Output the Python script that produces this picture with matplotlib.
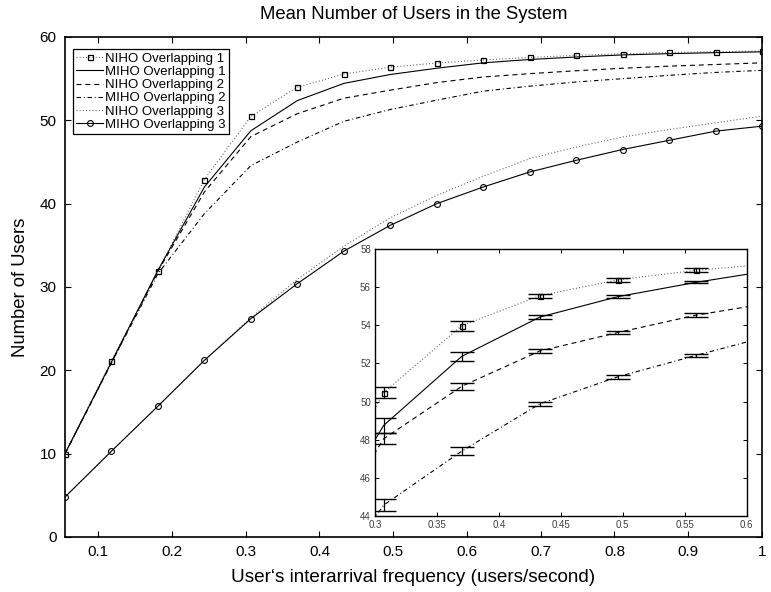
import matplotlib
matplotlib.use('Agg')
import matplotlib.pyplot as plt

plt.rcParams['font.family'] = ['Liberation Sans', 'DejaVu Sans']
plt.rcParams['lines.scale_dashes'] = False

# ---------------- data ----------------
freq = [0.055, 0.118, 0.181, 0.244, 0.307, 0.370, 0.433, 0.496,
        0.559, 0.622, 0.685, 0.748, 0.811, 0.874, 0.937, 1.000]

niho1 = [10.0, 21.1, 31.9, 42.9, 50.47, 53.98, 55.55, 56.38,
         56.88, 57.24, 57.55, 57.80, 58.00, 58.14, 58.24, 58.32]
miho1 = [10.0, 21.0, 32.0, 42.0, 48.75, 52.37, 54.43, 55.50,
         56.25, 56.90, 57.30, 57.60, 57.85, 58.00, 58.12, 58.22]
niho2 = [10.0, 20.9, 31.9, 41.4, 48.05, 50.80, 52.65, 53.62,
         54.53, 55.20, 55.60, 55.95, 56.25, 56.50, 56.70, 56.90]
miho2 = [10.0, 20.9, 31.6, 38.8, 44.57, 47.40, 49.88, 51.30,
         52.42, 53.50, 54.10, 54.60, 55.00, 55.40, 55.75, 56.00]
niho3 = [4.8, 10.3, 15.7, 21.2, 26.3, 30.9, 34.9, 38.3,
         41.0, 43.3, 45.4, 46.8, 48.0, 48.9, 49.7, 50.5]
miho3 = [4.8, 10.3, 15.7, 21.2, 26.2, 30.4, 34.3, 37.4,
         40.0, 42.0, 43.8, 45.2, 46.5, 47.6, 48.7, 49.3]

# confidence half-widths for points 5..9 (shown in the zoomed inset)
err_idx = [4, 5, 6, 7, 8]
niho1_err = [0.27, 0.26, 0.11, 0.09, 0.11]
miho1_err = [0.41, 0.25, 0.12, 0.08, 0.05]
niho2_err = [0.29, 0.20, 0.10, 0.10, 0.10]
miho2_err = [0.33, 0.20, 0.09, 0.11, 0.10]

labels = ['NIHO Overlapping 1', 'MIHO Overlapping 1', 'NIHO Overlapping 2',
          'MIHO Overlapping 2', 'NIHO Overlapping 3', 'MIHO Overlapping 3']

main_xticks = [0.1, 0.2, 0.3, 0.4, 0.5, 0.6, 0.7, 0.8, 0.9, 1.0]
main_xticklabels = ['0.1', '0.2', '0.3', '0.4', '0.5', '0.6', '0.7', '0.8', '0.9', '1']
main_yticks = [0, 10, 20, 30, 40, 50, 60]
ins_xticks = [0.3, 0.35, 0.4, 0.45, 0.5, 0.55, 0.6]
ins_xticklabels = ['0.3', '0.35', '0.4', '0.45', '0.5', '0.55', '0.6']
ins_yticks = [44, 46, 48, 50, 52, 54, 56, 58]

# ---------------- styles ----------------
dotted = (0, (0.7, 1.6))
dashed = (0, (3.6, 2.8))
dashdot = (0, (3.2, 2.0, 0.7, 2.0))
lw = 0.8
series = [
    (niho1, dict(color='0.35', ls=dotted, marker='s', ms=3.6, mfc='none', mec='black', mew=0.9)),
    (miho1, dict(color='black', ls='-')),
    (niho2, dict(color='black', ls=dashed)),
    (miho2, dict(color='black', ls=dashdot)),
    (niho3, dict(color='0.35', ls=dotted)),
    (miho3, dict(color='black', ls='-', marker='o', ms=4.2, mfc='none', mec='black', mew=0.8)),
]

W, H = 771, 592
fig = plt.figure(figsize=(W / 100, H / 100), dpi=100)
ax = fig.add_axes([65 / W, (H - 537) / H, 697 / W, 500 / H])

handles = []
for (vals, st), lab in zip(series, labels):
    h, = ax.plot(freq, vals, lw=lw, label=lab, **st)
    handles.append(h)

ax.set_xlim(0.055, 1.0)
ax.set_ylim(0, 60)
ax.set_xticks(main_xticks)
ax.set_xticklabels(main_xticklabels)
ax.set_yticks(main_yticks)
ax.tick_params(direction='in', length=4, width=0.8, labelsize=11, pad=6,
               top=True, right=True)
for sp in ax.spines.values():
    sp.set_linewidth(1.2)

ax.set_title('Mean Number of Users in the System', fontsize=13.3, pad=13)
ax.set_xlabel('User‘s interarrival frequency (users/second)', fontsize=13.6, labelpad=7)
ax.set_ylabel('Number of Users', fontsize=13.3, labelpad=8)

leg = ax.legend(handles=handles, loc='upper left', bbox_to_anchor=(0.0115, 0.976),
                borderaxespad=0, fontsize=9.5, frameon=True, fancybox=False,
                edgecolor='black', framealpha=1, handlelength=2.0,
                handletextpad=0.2, borderpad=0.25, labelspacing=0.08)
leg.get_frame().set_linewidth(0.9)

# ---------------- inset ----------------
ins = fig.add_axes([375 / W, (H - 516) / H, 371.7 / W, 267 / H])
for vals, st in series:
    ins.plot(freq, vals, lw=lw, **st)

ex = [freq[i] for i in err_idx]
for vals, errs in [(niho1, niho1_err), (miho1, miho1_err),
                   (niho2, niho2_err), (miho2, miho2_err)]:
    ey = [vals[i] for i in err_idx]
    ins.errorbar(ex, ey, yerr=errs, fmt='none', ecolor='black',
                 elinewidth=0.9, capsize=8.4, capthick=1.0)

ins.set_xlim(0.3, 0.6)
ins.set_ylim(44, 58)
ins.set_xticks(ins_xticks)
ins.set_xticklabels(ins_xticklabels)
ins.set_yticks(ins_yticks)
ins.tick_params(direction='in', length=3, width=0.7, labelsize=7, pad=3,
                labelcolor='0.25', top=True, right=True)
for sp in ins.spines.values():
    sp.set_linewidth(1.0)

fig.savefig('out.png', dpi=100)
